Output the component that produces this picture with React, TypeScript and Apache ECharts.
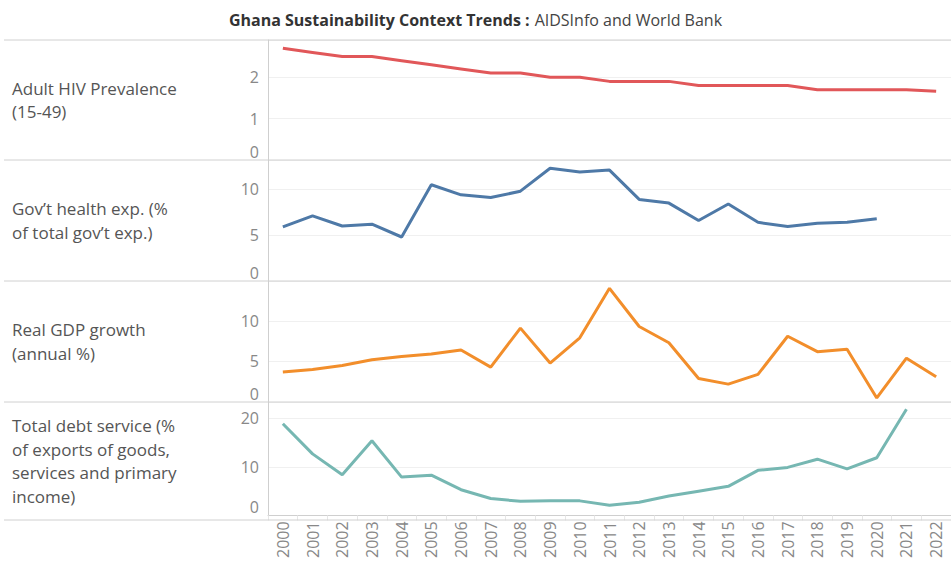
import React, { useEffect, useRef } from "react";
import * as echarts from "echarts";

const years = ["2000","2001","2002","2003","2004","2005","2006","2007","2008","2009","2010","2011","2012","2013","2014","2015","2016","2017","2018","2019","2020","2021","2022"];
const hivPrevalence = [2.7,2.6,2.5,2.5,2.4,2.3,2.2,2.1,2.1,2.0,2.0,1.9,1.9,1.9,1.8,1.8,1.8,1.8,1.7,1.7,1.7,1.7,1.66];
const govHealthExp = [5.9,7.1,6.0,6.2,4.8,10.5,9.4,9.1,9.8,12.3,11.9,12.1,8.9,8.5,6.6,8.4,6.4,5.95,6.3,6.4,6.8,null,null];
const gdpGrowth = [3.7,4.0,4.5,5.2,5.6,5.9,6.4,4.3,9.1,4.8,7.9,14.0,9.3,7.3,2.9,2.2,3.4,8.1,6.2,6.5,0.5,5.4,3.1];
const debtService = [18.9,12.7,8.4,15.4,7.9,8.3,5.3,3.5,2.9,3.0,3.0,2.1,2.7,4.0,5.0,6.0,9.3,9.9,11.6,9.6,11.9,21.9,null];

const rowLabels = [
  "Adult HIV Prevalence\n(15-49)",
  "Gov\u2019t health exp. (%\nof total gov\u2019t exp.)",
  "Real GDP growth\n(annual %)",
  "Total debt service (%\nof exports of goods,\nservices and primary\nincome)",
];
const seriesData = [hivPrevalence, govHealthExp, gdpGrowth, debtService];
const colors = ["#e15759", "#4e79a7", "#f28e2b", "#76b7b2"];
const yMax = [2.9, 13.2, 14.9, 23.4];
const yInterval = [1, 5, 5, 10];

const FONT = "'Open Sans', sans-serif";
const rowTops = [40, 160, 281, 402];
const rowBottoms = [160, 281, 402, 520];

export default function App() {
  const ref = useRef<HTMLDivElement>(null);
  useEffect(() => {
    document.body.style.margin = "0";
    if (!ref.current) return;
    const chart = echarts.init(ref.current, null, { renderer: "svg" });
    const grids = rowTops.map((t, i) => ({
      left: 268,
      top: t,
      width: 694,
      height: rowBottoms[i] - t,
    }));
    const xAxes = rowTops.map((_, i) => ({
      type: "category",
      gridIndex: i,
      data: years,
      boundaryGap: true,
      axisLine: { show: i === 3, lineStyle: { color: "#cfcfcf", width: 1 } },
      axisTick: { show: i === 3, length: 5, lineStyle: { color: "#e6e6e6" } },
      axisLabel: {
        show: i === 3,
        rotate: 90,
        color: "#888",
        fontSize: 16,
        fontFamily: FONT,
        margin: 6,
      },
      splitLine: { show: false },
    }));
    const yAxes = rowTops.map((_, i) => ({
      type: "value",
      gridIndex: i,
      min: 0,
      max: yMax[i],
      interval: yInterval[i],
      axisLine: { show: true, lineStyle: { color: "#cfcfcf" } },
      axisTick: { show: false },
      axisLabel: {
        showMaxLabel: false,
        color: "#888",
        fontSize: 16,
        fontFamily: FONT,
        margin: 9,
        formatter: (v: number) => (v === 0 ? "{z|0}" : String(v)),
        rich: { z: { padding: [0, 0, 16, 0], color: "#888", fontSize: 16, fontFamily: FONT } },
      },
      splitLine: { show: true, lineStyle: { color: "#f0f0f0", width: 1 } },
    }));
    const series = seriesData.map((d, i) => ({
      type: "line",
      xAxisIndex: i,
      yAxisIndex: i,
      data: d,
      symbol: "none",
      lineStyle: { color: colors[i], width: 3 },
      itemStyle: { color: colors[i] },
      connectNulls: false,
    }));
    const seps = [40, 160, 281, 402, 520].map((y) => ({
      type: "line",
      shape: { x1: 4, y1: y, x2: 951, y2: y },
      style: { stroke: "#d0d0d0", lineWidth: 1 },
      z: 10,
    }));
    const labels = rowLabels.map((txt, i) => ({
      type: "text",
      left: 12,
      top: (rowTops[i] + rowBottoms[i]) / 2 - (txt.split("\n").length * 23.5) / 2,
      style: {
        text: txt,
        fill: "#555",
        fontSize: 17,
        fontFamily: FONT,
        lineHeight: 23.5,
      },
    }));
    chart.setOption({
      animation: false,
      title: {
        left: "center",
        top: 6,
        text: "{b|Ghana Sustainability Context Trends :} {r|AIDSInfo and World Bank}",
        textStyle: {
          rich: {
            b: { fontWeight: "bold", fontSize: 16, color: "#333", fontFamily: FONT },
            r: { fontWeight: "normal", fontSize: 16, color: "#444", fontFamily: FONT },
          },
        },
      },
      grid: grids,
      xAxis: xAxes,
      yAxis: yAxes,
      series,
      graphic: [...seps, ...labels],
    });
    return () => chart.dispose();
  }, []);
  return <div ref={ref} style={{ width: 951, height: 561 }} />;
}
